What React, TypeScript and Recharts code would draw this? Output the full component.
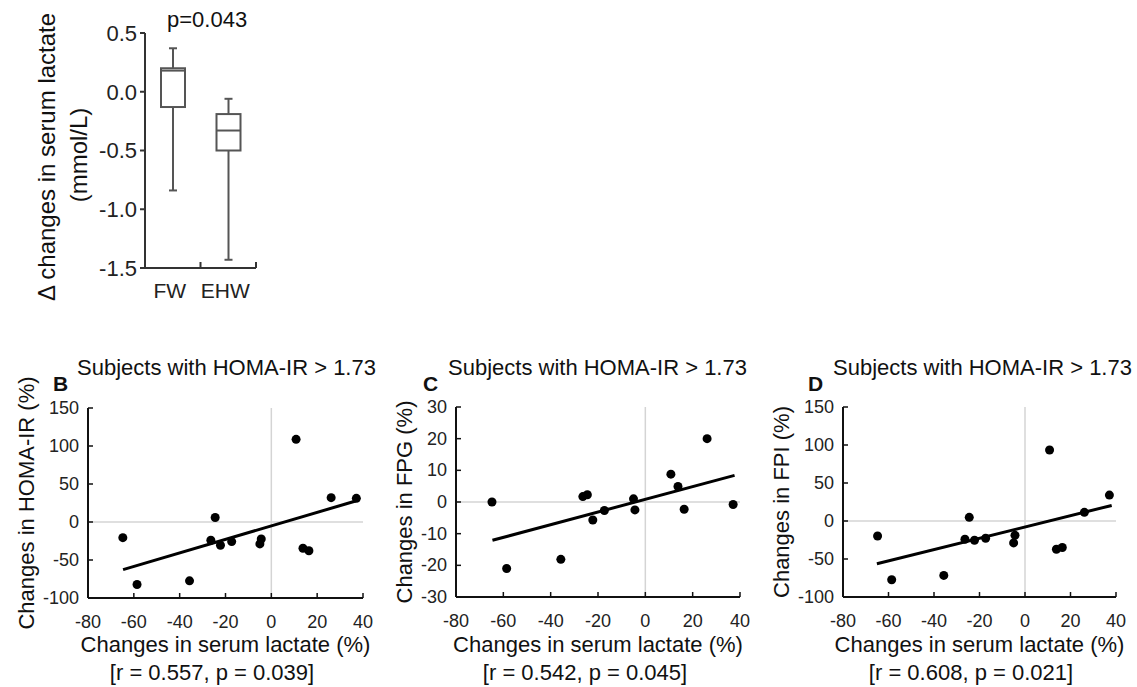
import React from 'react';
import {
  ComposedChart, Bar, XAxis, YAxis, ScatterChart, Scatter, ReferenceLine
} from 'recharts';

const FONT = '"Liberation Sans", Arial, Helvetica, sans-serif';

// A: box plot of the change in serum lactate (mmol/L)
const groups = ['FW', 'EHW'];
const groupPos = [0.5, 1.5];
const boxMin = [-0.84, -1.43];
const boxQ1 = [-0.13, -0.5];
const boxMedian = [0.18, -0.33];
const boxQ3 = [0.2, -0.19];
const boxMax = [0.37, -0.06];
const boxTicks = [-1.5, -1.0, -0.5, 0, 0.5];

// B-D: one point per subject, x = change in serum lactate (%)
const lactate = [-64.8, -58.6, -35.7, -26.4, -24.5, -22.2, -17.3, -5.0, -4.4, 10.8, 13.8, 16.4, 26.1, 37.1];
const homaIR = [-20.6, -82.2, -77.4, -24, 5.9, -30.6, -25.8, -28.8, -22.3, 108.8, -34.5, -37.9, 32, 31.1];
const fpg = [0, -21, -18.1, 1.7, 2.3, -5.7, -2.7, 1.0, -2.5, 8.8, 4.9, -2.3, 20, -0.8];
const fpi = [-19.7, -77.3, -71.6, -24, 4.8, -25.3, -22.7, -28.8, -18.8, 93.4, -37.1, -34.9, 11.4, 34.1];

// regression lines (end points)
const homaFitX = [-64.7, 36.8];
const homaFitY = [-62.7, 27.6];
const fpgFitX = [-64.6, 37.7];
const fpgFitY = [-12.1, 8.4];
const fpiFitX = [-65.1, 38.1];
const fpiFitY = [-56.3, 20.5];

const lactateTicks = [-80, -60, -40, -20, 0, 20, 40];
const pctTicks = [-100, -50, 0, 50, 100, 150];
const fpgTicks = [-30, -20, -10, 0, 10, 20, 30];

const boxData = groups.map((name, i) => ({
  name,
  pos: groupPos[i],
  range: [boxMin[i], boxMax[i]],
  min: boxMin[i],
  q1: boxQ1[i],
  median: boxMedian[i],
  q3: boxQ3[i],
  max: boxMax[i],
}));

const BoxShape = (props: any) => {
  const { x, y, width, height } = props;
  const p = props.payload || props;
  const top = Math.min(y, y + height);
  const bot = Math.max(y, y + height);
  const toPx = (v: number) => top + ((p.max - v) / (p.max - p.min)) * (bot - top);
  const cx = x + width / 2;
  const c = '#555';
  return (
    <g stroke={c} strokeWidth={2} fill="none">
      <line x1={cx} x2={cx} y1={toPx(p.max)} y2={toPx(p.q3)} />
      <line x1={cx} x2={cx} y1={toPx(p.q1)} y2={toPx(p.min)} />
      <line x1={cx - 4} x2={cx + 4} y1={toPx(p.max)} y2={toPx(p.max)} />
      <line x1={cx - 4} x2={cx + 4} y1={toPx(p.min)} y2={toPx(p.min)} />
      <rect x={x} y={toPx(p.q3)} width={width} height={toPx(p.q1) - toPx(p.q3)} fill="#fff" />
      <line x1={x} x2={x + width} y1={toPx(p.median)} y2={toPx(p.median)} />
    </g>
  );
};

const BoxXTick = (props: any) => {
  const { x, y, payload } = props;
  const idx = groupPos.indexOf(payload.value);
  if (idx >= 0) {
    return (
      <text x={x - 3} y={y + 30} textAnchor="middle" fontSize={21} fill="#222">{groups[idx]}</text>
    );
  }
  return <line x1={x} x2={x} y1={y} y2={y - 6} stroke="#333" strokeWidth={2} />;
};

const BoxPlot = () => (
  <div style={{ position: 'absolute', left: 0, top: 0 }}>
    <ComposedChart width={280} height={310} data={boxData} margin={{ top: 33, right: 24, bottom: 6, left: 0 }}>
      <XAxis
        type="number" dataKey="pos" domain={[0, 2]} ticks={[0.5, 1, 1.5, 2]} interval={0}
        height={36} tickLine={false} tickSize={0} tickMargin={0}
        axisLine={{ stroke: '#333', strokeWidth: 2 }} tick={BoxXTick}
      />
      <YAxis
        type="number" domain={[-1.5, 0.5]} ticks={boxTicks} interval={0} width={145}
        tickFormatter={(v: number) => v.toFixed(1)} tickSize={5} tickMargin={3}
        axisLine={{ stroke: '#333', strokeWidth: 2 }} tickLine={{ stroke: '#333', strokeWidth: 2 }}
        tick={{ fontSize: 22, fill: '#222' }}
      />
      <Bar dataKey="range" barSize={24} shape={BoxShape} isAnimationActive={false} />
    </ComposedChart>
  </div>
);

const XTick = (props: any) => {
  const { x, y, payload } = props;
  return (
    <g>
      <line x1={x} x2={x} y1={y} y2={y - 5} stroke="#111" strokeWidth={1.5} />
      <text x={x} y={y + 30} textAnchor="middle" fontSize={18} fill="#222">{payload.value}</text>
    </g>
  );
};

const YTick = (props: any) => {
  const { x, y, payload } = props;
  return (
    <g>
      <line x1={x} x2={x + 5} y1={y} y2={y} stroke="#111" strokeWidth={1.5} />
      <text x={x - 9} y={y + 6} textAnchor="end" fontSize={18} fill="#222">{payload.value}</text>
    </g>
  );
};

const Dot = (props: any) => <circle cx={props.cx} cy={props.cy} r={4.5} fill="#000" />;
const NoDot = () => <g />;

const CONT_TOP = 340;
const CONT_H = 347;
const CONT_W = 380;
const FRAME = { stroke: '#111', strokeWidth: 2 };

type PanelProps = {
  left: number;
  plotLeft: number;
  plotRight: number;
  plotTop: number;
  plotBottom: number;
  ys: number[];
  fitX: number[];
  fitY: number[];
  yTicks: number[];
  yLabel: string;
  yLabelX: number;
};

const Panel = ({ left, plotLeft, plotRight, plotTop, plotBottom, ys, fitX, fitY, yTicks, yLabel, yLabelX }: PanelProps) => {
  const pts = lactate.map((x, i) => ({ x, y: ys[i] }));
  const fit = fitX.map((x, i) => ({ x, y: fitY[i] }));
  const yMin = yTicks[0];
  const yMax = yTicks[yTicks.length - 1];
  return (
    <div style={{ position: 'absolute', left, top: CONT_TOP }}>
      <ScatterChart
        width={CONT_W} height={CONT_H}
        margin={{ top: plotTop - CONT_TOP, right: left + CONT_W - plotRight, bottom: 0, left: 0 }}
      >
        <XAxis
          xAxisId="b" type="number" dataKey="x" domain={[-80, 40]} ticks={lactateTicks} interval={0}
          height={CONT_TOP + CONT_H - plotBottom} axisLine={FRAME} tickLine={false} tickSize={0} tickMargin={0}
          tick={XTick}
          label={{ value: 'Changes in serum lactate (%)', position: 'insideBottom', offset: 35, fontSize: 22, fill: '#111' }}
        />
        <XAxis xAxisId="t" orientation="top" type="number" domain={[-80, 40]} height={0}
          axisLine={FRAME} tick={false} tickLine={false} />
        <YAxis
          yAxisId="l" type="number" dataKey="y" domain={[yMin, yMax]} ticks={yTicks} interval={0}
          width={plotLeft - left} axisLine={FRAME} tickLine={false} tickSize={0} tickMargin={0}
          tick={YTick}
          label={{ value: yLabel, angle: -90, position: 'insideLeft', offset: yLabelX, fontSize: 22, fill: '#111', style: { textAnchor: 'middle' } }}
        />
        <YAxis yAxisId="r" orientation="right" type="number" domain={[yMin, yMax]} width={0}
          axisLine={FRAME} tick={false} tickLine={false} />
        <ReferenceLine xAxisId="b" yAxisId="l" x={0} stroke="#d4d4d4" strokeWidth={1.5} />
        <ReferenceLine xAxisId="b" yAxisId="l" y={0} stroke="#d4d4d4" strokeWidth={1.5} />
        <Scatter xAxisId="b" yAxisId="l" data={fit} line={{ stroke: '#000', strokeWidth: 3 }} shape={NoDot} isAnimationActive={false} />
        <Scatter xAxisId="b" yAxisId="l" data={pts} shape={Dot} isAnimationActive={false} />
      </ScatterChart>
    </div>
  );
};

const title = 'Subjects with HOMA-IR > 1.73';

export default function App() {
  return (
    <div style={{ position: 'absolute', left: 0, top: 0, width: 1137, height: 687, background: '#fff', fontFamily: FONT, color: '#111' }}>
      <BoxPlot />
      <Panel left={0} plotLeft={88} plotRight={363} plotTop={408} plotBottom={598}
        ys={homaIR} fitX={homaFitX} fitY={homaFitY} yTicks={pctTicks} yLabel="Changes in HOMA-IR (%)" yLabelX={26} />
      <Panel left={380} plotLeft={456} plotRight={740} plotTop={407} plotBottom={597}
        ys={fpg} fitX={fpgFitX} fitY={fpgFitY} yTicks={fpgTicks} yLabel="Changes in FPG (%)" yLabelX={24} />
      <Panel left={757} plotLeft={843} plotRight={1116} plotTop={407} plotBottom={597}
        ys={fpi} fitX={fpiFitX} fitY={fpiFitY} yTicks={pctTicks} yLabel="Changes in FPI (%)" yLabelX={24} />
      <svg width={1137} height={687} style={{ position: 'absolute', left: 0, top: 0, pointerEvents: 'none' }} fontFamily={FONT}>
        <text x={167} y={27} fontSize={22} fill="#111">p=0.043</text>
        <text x={55} y={157} fontSize={24} fill="#111" textAnchor="middle" transform="rotate(-90 55 157)">Δ changes in serum lactate</text>
        <text x={87} y={155} fontSize={24} fill="#111" textAnchor="middle" transform="rotate(-90 87 155)">(mmol/L)</text>

        <text x={77} y={375} fontSize={22} fill="#111">{title}</text>
        <text x={448} y={375} fontSize={22} fill="#111">{title}</text>
        <text x={833} y={375} fontSize={22} fill="#111">{title}</text>
        <text x={53} y={391} fontSize={21} fontWeight="bold" fill="#111">B</text>
        <text x={423} y={391} fontSize={21} fontWeight="bold" fill="#111">C</text>
        <text x={808} y={391} fontSize={21} fontWeight="bold" fill="#111">D</text>

        <text x={212} y={680} fontSize={22} fill="#111" textAnchor="middle">[r = 0.557, p = 0.039]</text>
        <text x={585} y={680} fontSize={22} fill="#111" textAnchor="middle">[r = 0.542, p = 0.045]</text>
        <text x={971} y={680} fontSize={22} fill="#111" textAnchor="middle">[r = 0.608, p = 0.021]</text>
      </svg>
    </div>
  );
}
